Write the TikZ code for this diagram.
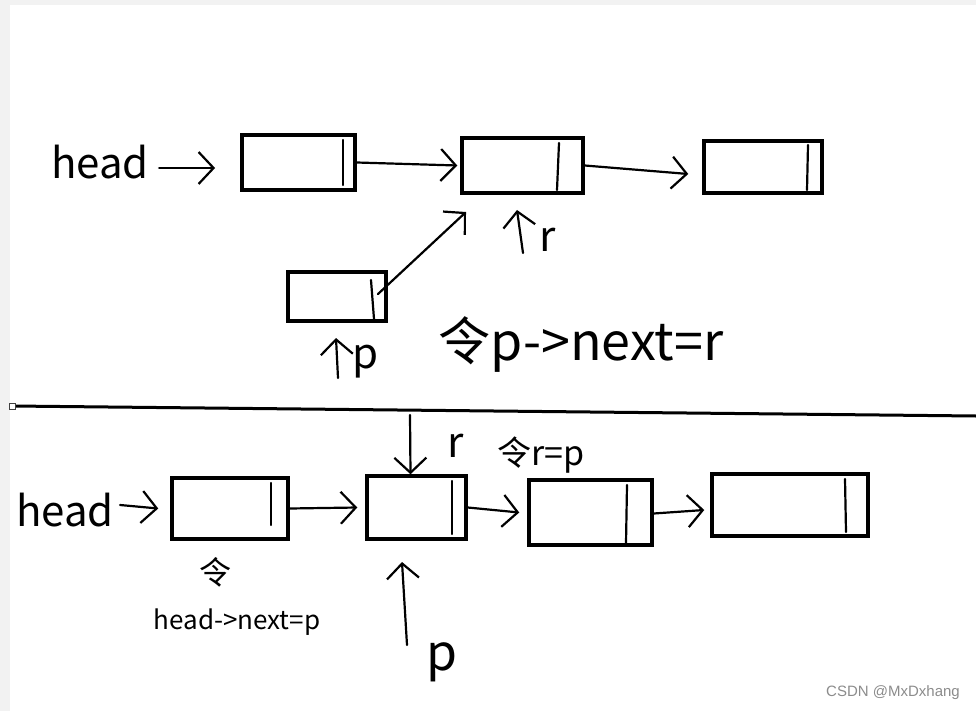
\documentclass[tikz,border=0pt]{standalone}
\usepackage{fontspec}
\setmainfont{Noto Sans CJK SC}
\newfontfamily\markfont{Liberation Sans}
\usetikzlibrary{arrows.meta}
\definecolor{pagegray}{HTML}{F2F2F2}
\tikzset{
  cell/.style={draw,line width=3.5pt,inner sep=0pt},
  pen/.style={line width=2.2pt,line cap=round,line join=round},
  link/.style={pen,-{Straight Barb[length=15pt,width=32pt,line width=2.2pt]}},
  hand/.style={inner sep=0pt,font=\fontsize{42}{42}\selectfont}
}
\begin{document}
\begin{tikzpicture}[x=1pt,y=-1pt]
  \useasboundingbox (0,0) rectangle (976,711);
  \fill[pagegray] (0,0) rectangle (976,711);
  \fill[white] (10,5) rectangle (976,711);
  % before: p is inserted after the first node
  \node[hand] (head1) at (100,162) {head};
  \node[cell,minimum width=113pt,minimum height=55pt] (a) at (298.5,162.5) {};
  \node[cell,minimum width=121pt,minimum height=55pt] (b) at (522.5,165.5) {};
  \node[cell,minimum width=118pt,minimum height=52pt] (c) at (763,167) {};
  \node[cell,minimum width=98pt,minimum height=49pt] (p) at (337,296.5) {};
  \draw[pen] (343,140)--(343,185);
  \draw[pen] (559,143)--(557,190);
  \draw[pen] (808,145)--(807,190);
  \draw[pen] (371,280)--(374,319);
  \draw[link] (head1.east)++(10,6) -- ++(56,0);
  \draw[link] (a.east) -- ([xshift=-3pt]b.west);
  \draw[link] (b.east) -- ([xshift=-14pt,yshift=-7pt]c.west);
  \coordinate (bin) at (466,212);
  \draw[link] (378,294) -- (bin);
  \coordinate (rtip) at (517,210);
  \draw[link] (523,253) -- (rtip);
  \node[hand] (r1) at (548,240) {r};
  \coordinate (ptip) at (336,338);
  \draw[link] (338,378) -- (ptip);
  \node[hand] (p1) at (366,362) {p};
  \node[hand,font=\fontsize{52}{52}\selectfont] (note1) at (581,345) {令p->next=r};
  % separator
  \draw[line width=3pt] (12,406) -- (976,416);
  \draw[fill=white,draw=black!75,line width=1pt] (9,403) rectangle (15,409);
  % after: r=p
  \node[hand] (head2) at (65,510) {head};
  \node[cell,minimum width=116pt,minimum height=61pt] (n1) at (230,508.5) {};
  \node[cell,minimum width=99pt,minimum height=63pt] (n2) at (416.5,507.5) {};
  \node[cell,minimum width=123pt,minimum height=65pt] (n3) at (590.5,512.5) {};
  \node[cell,minimum width=156pt,minimum height=62pt] (n4) at (790,505) {};
  \draw[pen] (271,483)--(271,525);
  \draw[pen] (452,481)--(452,534);
  \draw[pen] (627,485)--(626,543);
  \draw[pen] (845,479)--(846,532);
  \draw[link] (head2.east)++(6,-5) -- ([xshift=-12pt]n1.west);
  \draw[link] (n1.east) -- ([xshift=-8pt]n2.west);
  \draw[link] (n2.east) -- ([xshift=-8pt]n3.west);
  \draw[link] ([yshift=-1pt]n3.east) -- ([xshift=-6pt,yshift=-5pt]n4.west);
  \draw[link] (410,415) -- ([xshift=-6pt]n2.north);
  \node[hand] (r2) at (456,446) {r};
  \node[hand,font=\fontsize{34}{34}\selectfont] (note2) at (541,455) {令r=p};
  \node[hand,font=\fontsize{32}{32}\selectfont] (ling) at (215,572) {令};
  \node[hand,font=\fontsize{26}{26}\selectfont] (note3) at (237,622) {head->next=p};
  \draw[link] (407,645) -- (402,562);
  \node[hand,font=\fontsize{50}{50}\selectfont] (p2) at (442,662) {p};
  \node[font=\markfont\fontsize{15}{15}\selectfont,text=black!45] (mark) at (893,693) {CSDN @MxDxhang};
\end{tikzpicture}
\end{document}
